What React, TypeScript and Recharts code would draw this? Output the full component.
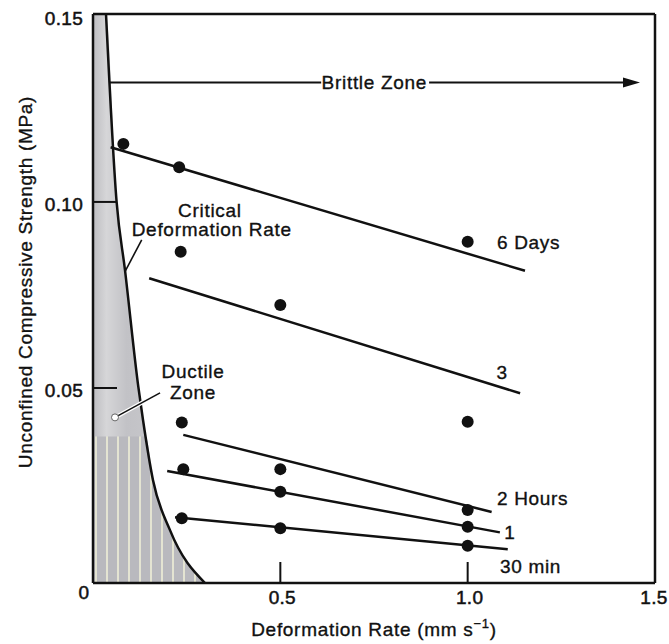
import React from "react";
import {
  ComposedChart,
  XAxis,
  YAxis,
  Line,
  Area,
  Scatter,
  ReferenceLine,
  ReferenceDot,
} from "recharts";

const FONT = '"Liberation Sans", Arial, Helvetica, sans-serif';
const INK = "#111";

const xTicks = [0, 0.5, 1.0, 1.5];
const yTicks = [0.05, 0.1, 0.15];
const yInnerTicks = [0.05, 0.1];
const Y_MIN = -0.0024;
const Y_MAX = 0.1505;

// measured strengths (x = deformation rate mm/s, y = strength MPa)
const pts6Days = [
  { x: 0.081, y: 0.1156 },
  { x: 0.23, y: 0.1093 },
  { x: 1.0, y: 0.0893 },
];
const pts3Days = [
  { x: 0.234, y: 0.0866 },
  { x: 0.5, y: 0.0723 },
  { x: 1.0, y: 0.0409 },
];
const pts2Hours = [
  { x: 0.237, y: 0.0407 },
  { x: 0.5, y: 0.0282 },
  { x: 1.0, y: 0.0172 },
];
const pts1Hour = [
  { x: 0.241, y: 0.0282 },
  { x: 0.5, y: 0.0221 },
  { x: 1.0, y: 0.0127 },
];
const pts30Min = [
  { x: 0.237, y: 0.015 },
  { x: 0.5, y: 0.0123 },
  { x: 1.0, y: 0.0076 },
];

// fitted trend lines
const fit6Days = [
  { x: 0.047, y: 0.1147 },
  { x: 1.153, y: 0.0815 },
];
const fit3Days = [
  { x: 0.15, y: 0.0795 },
  { x: 1.14, y: 0.0486 },
];
const fit2Hours = [
  { x: 0.241, y: 0.0374 },
  { x: 1.064, y: 0.0167 },
];
const fit1Hour = [
  { x: 0.198, y: 0.0277 },
  { x: 1.086, y: 0.0112 },
];
const fit30Min = [
  { x: 0.219, y: 0.0153 },
  { x: 1.107, y: 0.0067 },
];

// critical deformation rate boundary
const criticalRate = [
  { x: 0.0347, y: 0.1505 },
  { x: 0.063, y: 0.1 },
  { x: 0.0854, y: 0.0817 },
  { x: 0.121, y: 0.0503 },
  { x: 0.1335, y: 0.0414 },
  { x: 0.16, y: 0.0253 },
  { x: 0.2055, y: 0.0118 },
  { x: 0.299, y: -0.0024 },
];
const ductileUpper = [{ x: 0, y: 0.1505 }, ...criticalRate];
const ductileLower = [
  { x: 0, y: 0.037 },
  { x: 0.1406, y: 0.037 },
  { x: 0.16, y: 0.0253 },
  { x: 0.2055, y: 0.0118 },
  { x: 0.299, y: -0.0024 },
];

const txt = {
  fontFamily: FONT,
  fontSize: 19,
  letterSpacing: 0.7,
  fill: INK,
  stroke: INK,
  strokeWidth: 0.35,
};
const tickTxt = { ...txt, letterSpacing: 0.3, strokeWidth: 0.5 };

const Dot = (p: any) => <circle cx={p.cx} cy={p.cy} r={6} fill={INK} />;

const XTick = (p: any) => {
  const v = p.payload.value;
  if (v === 0) {
    return (
      <text x={p.x - 9} y={p.y - 5} dy="0.71em" textAnchor="middle" {...tickTxt}>
        0
      </text>
    );
  }
  return (
    <text x={v === 1.5 ? p.x - 1 : p.x + 2} y={p.y} dy="0.71em" textAnchor="middle" {...tickTxt}>
      {v.toFixed(1)}
    </text>
  );
};

// draws its own inward tick mark, skipped at the top corner
const YTick = (p: any) => {
  const v = p.payload.value;
  return (
    <g>
      {v < 0.15 && (
        <line x1={p.x + 10} y1={p.y} x2={p.x + 34} y2={p.y} stroke={INK} strokeWidth={2} />
      )}
      <text x={p.x} y={p.y + 2} dy="0.36em" textAnchor="end" {...tickTxt}>
        {v.toFixed(2)}
      </text>
    </g>
  );
};

const XTitle = () => (
  <text x={374} y={636} textAnchor="middle" {...txt}>
    Deformation Rate (mm s
    <tspan dy={-8} fontSize={13}>
      −1
    </tspan>
    <tspan dy={8}>)</tspan>
  </text>
);

const YTitle = () => (
  <text
    x={25}
    y={282}
    textAnchor="middle"
    dy="0.36em"
    transform="rotate(-90, 25, 282)"
    {...txt}
  >
    Unconfined Compressive Strength (MPa)
  </text>
);

const note =
  (text: string, anchor: "start" | "middle" = "start") =>
  (p: any) => {
    const vb = p.viewBox;
    return (
      <text x={vb.x} y={vb.y} dy="0.36em" textAnchor={anchor} {...txt}>
        {text}
      </text>
    );
  };

const ArrowShape = (p: any) => {
  const { x1, y1, x2, y2 } = p;
  return (
    <g>
      <line x1={x1} y1={y1} x2={x2 - 12} y2={y2} stroke={INK} strokeWidth={2} />
      <polygon
        points={`${x2},${y2} ${x2 - 17},${y2 - 5} ${x2 - 17},${y2 + 5}`}
        fill={INK}
      />
    </g>
  );
};

export default function App() {
  return (
    <div
      style={{
        position: "absolute",
        left: 0,
        top: 0,
        width: 669,
        height: 644,
        background: "#fff",
      }}
    >
      <ComposedChart
        width={669}
        height={644}
        margin={{ top: 14, right: 0, bottom: 0, left: 0 }}
      >
        <defs>
          <pattern
            id="stripes"
            patternUnits="userSpaceOnUse"
            x={95}
            y={0}
            width={11}
            height={10}
          >
            <rect width={11} height={10} fill="#b9b9be" />
            <rect x={0} width={2} height={10} fill="#e4e4d2" />
          </pattern>
          <linearGradient id="ductileGrey" x1="0" y1="0" x2="1" y2="0">
            <stop offset="0%" stopColor="#bdbdc1" />
            <stop offset="12%" stopColor="#d6d6d8" />
            <stop offset="30%" stopColor="#c2c2c6" />
            <stop offset="100%" stopColor="#cfcfd2" />
          </linearGradient>
        </defs>

        <XAxis
          type="number"
          dataKey="x"
          domain={[0, 1.5]}
          ticks={xTicks}
          allowDataOverflow
          height={61}
          axisLine={{ stroke: INK, strokeWidth: 2.5 }}
          tickLine={{ stroke: INK, strokeWidth: 2 }}
          tickSize={-21}
          tickMargin={29}
          tick={<XTick />}
          label={XTitle}
        />
        <YAxis
          type="number"
          domain={[Y_MIN, Y_MAX]}
          ticks={yTicks}
          allowDataOverflow
          width={93}
          axisLine={{ stroke: INK, strokeWidth: 2.5 }}
          tickLine={false}
          tickSize={-24}
          tickMargin={34}
          tick={<YTick />}
          label={YTitle}
        />
        <YAxis
          yAxisId="right"
          orientation="right"
          type="number"
          domain={[Y_MIN, Y_MAX]}
          ticks={yInnerTicks}
          allowDataOverflow
          width={14}
          axisLine={{ stroke: INK, strokeWidth: 2.5 }}
          tickLine={{ stroke: INK, strokeWidth: 2 }}
          tickSize={-28}
          tick={false}
        />

        <Area
          data={ductileUpper}
          dataKey="y"
          type="monotone"
          baseValue="dataMin"
          stroke="none"
          fill="url(#ductileGrey)"
          fillOpacity={1}
          isAnimationActive={false}
        />
        <Area
          data={ductileLower}
          dataKey="y"
          type="monotone"
          baseValue="dataMin"
          stroke="none"
          fill="url(#stripes)"
          fillOpacity={1}
          isAnimationActive={false}
        />
        <Line
          data={criticalRate}
          dataKey="y"
          type="monotone"
          stroke={INK}
          strokeWidth={2.5}
          dot={false}
          isAnimationActive={false}
        />

        <ReferenceLine y={Y_MAX} stroke={INK} strokeWidth={2.5} />

        {[fit6Days, fit3Days, fit2Hours, fit1Hour, fit30Min].map((d, i) => (
          <Line
            key={i}
            data={d}
            dataKey="y"
            type="linear"
            stroke={INK}
            strokeWidth={2.5}
            dot={false}
            isAnimationActive={false}
          />
        ))}
        {[pts6Days, pts3Days, pts2Hours, pts1Hour, pts30Min].map((d, i) => (
          <Scatter
            key={i}
            data={d}
            dataKey="y"
            shape={Dot}
            isAnimationActive={false}
          />
        ))}

        {/* brittle zone arrow */}
        <ReferenceLine
          segment={[
            { x: 0.045, y: 0.1321 },
            { x: 0.609, y: 0.1321 },
          ]}
          stroke={INK}
          strokeWidth={2}
        />
        <ReferenceLine
          segment={[
            { x: 0.897, y: 0.1321 },
            { x: 1.46, y: 0.1321 },
          ]}
          shape={ArrowShape}
        />
        <ReferenceDot x={0.751} y={0.1321} r={0} stroke="none" fill="none" label={note("Brittle Zone", "middle")} />

        {/* leaders */}
        <ReferenceLine
          segment={[
            { x: 0.13, y: 0.0898 },
            { x: 0.0854, y: 0.0813 },
          ]}
          stroke={INK}
          strokeWidth={1.6}
        />
        <ReferenceLine
          segment={[
            { x: 0.179, y: 0.0487 },
            { x: 0.0587, y: 0.0421 },
          ]}
          stroke="#fff"
          strokeWidth={4}
        />
        <ReferenceLine
          segment={[
            { x: 0.179, y: 0.0487 },
            { x: 0.0587, y: 0.0421 },
          ]}
          stroke={INK}
          strokeWidth={1.6}
        />
        <ReferenceDot x={0.0587} y={0.0421} r={3.5} fill="#fff" stroke="#666" strokeWidth={1} />

        <ReferenceDot x={0.312} y={0.0978} r={0} stroke="none" fill="none" label={note("Critical", "middle")} />
        <ReferenceDot x={0.317} y={0.0927} r={0} stroke="none" fill="none" label={note("Deformation Rate", "middle")} />
        <ReferenceDot x={0.267} y={0.0544} r={0} stroke="none" fill="none" label={note("Ductile", "middle")} />
        <ReferenceDot x={0.267} y={0.049} r={0} stroke="none" fill="none" label={note("Zone", "middle")} />

        <ReferenceDot x={1.078} y={0.0893} r={0} stroke="none" fill="none" label={note("6 Days")} />
        <ReferenceDot x={1.092} y={0.0543} r={0} stroke="none" fill="none" label={note("3", "middle")} />
        <ReferenceDot x={1.078} y={0.0205} r={0} stroke="none" fill="none" label={note("2 Hours")} />
        <ReferenceDot x={1.113} y={0.0113} r={0} stroke="none" fill="none" label={note("1", "middle")} />
        <ReferenceDot x={1.086} y={0.0022} r={0} stroke="none" fill="none" label={note("30 min")} />
      </ComposedChart>
    </div>
  );
}
